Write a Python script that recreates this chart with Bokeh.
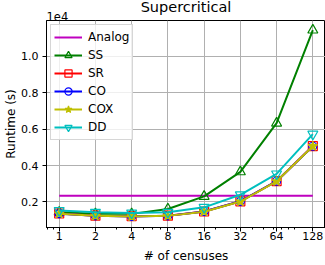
from bokeh.plotting import figure
from bokeh.models import Range1d, FixedTicker, CustomJSTickFormatter, Label, Legend, LegendItem
from bokeh.embed import file_html
from bokeh.resources import INLINE

censuses = [1, 2, 4, 8, 16, 32, 64, 128]
tick_labels = ["1", "2", "4", "8", "16", "32", "64", "128"]
analog = [2340] * 8
ss = [1430, 1340, 1340, 1610, 2300, 3650, 6330, 11450]
sr = [1360, 1240, 1210, 1240, 1470, 2030, 3140, 5070]
co = [1350, 1230, 1200, 1230, 1470, 2030, 3140, 5060]
cox = [1350, 1230, 1200, 1230, 1460, 2020, 3130, 5060]
dd = [1520, 1430, 1390, 1430, 1700, 2390, 3540, 5730]

FONT = "DejaVu Sans"

p = figure(width=325, height=265, output_backend="svg", toolbar_location=None,
           x_axis_type="log",
           x_range=Range1d(0.7846, 163.1), y_range=Range1d(590, 11980),
           title="Supercritical",
           min_border_left=46, min_border_right=0, min_border_top=0, min_border_bottom=38)

p.title.text_font = FONT
p.title.text_font_size = "14.5px"
p.title.text_font_style = "normal"
p.title.align = "center"
p.title.standoff = -7.4
p.title.text_color = "black"

p.outline_line_color = "black"
p.outline_line_alpha = 1
p.outline_line_width = 1

p.xaxis.ticker = FixedTicker(ticks=censuses,
                             minor_ticks=[0.8, 0.9, 3, 5, 6, 7, 9, 20, 30, 40, 50, 60, 70, 80, 90])
p.xaxis.formatter = CustomJSTickFormatter(args=dict(vals=censuses, labs=tick_labels),
                                          code="const i = vals.indexOf(tick); return i >= 0 ? labs[i] : '';")
p.yaxis.ticker = FixedTicker(ticks=[2000, 4000, 6000, 8000, 10000])
p.yaxis.formatter = CustomJSTickFormatter(code="return (tick/1e4).toFixed(1);")

for ax in (p.xaxis[0], p.yaxis[0]):
    ax.axis_label_text_font = FONT
    ax.axis_label_text_font_size = "12px"
    ax.axis_label_text_font_style = "normal"
    ax.axis_label_text_color = "black"
    ax.major_label_text_font = FONT
    ax.major_label_text_font_size = "11px"
    ax.major_label_text_color = "black"
    ax.major_tick_in = 0
    ax.major_tick_out = 4
    ax.minor_tick_in = 0
    ax.minor_tick_out = 2
    ax.axis_line_color = "black"
    ax.major_tick_line_color = "black"
    ax.minor_tick_line_color = "black"
p.yaxis.major_label_standoff = 4
p.yaxis.axis_label_standoff = 0
p.xaxis.major_label_standoff = 0
p.xaxis.axis_label_standoff = 6
p.yaxis.minor_tick_line_color = None
p.xaxis.axis_label = "# of censuses"
p.yaxis.axis_label = "Runtime (s)"

p.xgrid.ticker = FixedTicker(ticks=censuses)
p.ygrid.ticker = FixedTicker(ticks=[2000, 4000, 6000, 8000, 10000])
p.grid.grid_line_color = "#b0b0b0"
p.grid.grid_line_width = 1
p.grid.grid_line_alpha = 1

items = []
r = p.line(censuses, analog, line_color="#bf00bf", line_width=2)
items.append(LegendItem(label="Analog", renderers=[r]))

series = [
    ("SS", ss, "#008000", "triangle", 10, "none"),
    ("SR", sr, "#ff0000", "square", 9, "none"),
    ("CO", co, "#0000ff", "circle", 8, "none"),
    ("COX", cox, "#bfbf00", "star", 10, "fill"),
    ("DD", dd, "#00bfbf", "inverted_triangle", 10, "none"),
]
for name, vals, col, mk, sz, fill in series:
    l = p.line(censuses, vals, line_color=col, line_width=2)
    s = p.scatter(censuses, vals, marker=mk, size=sz, line_color=col, line_width=1.2,
                  fill_color=col if fill == "fill" else None)
    items.append(LegendItem(label=name, renderers=[l, s]))

legend = Legend(items=items, location="top_left")
legend.label_text_font = FONT
legend.label_text_font_size = "12px"
legend.label_text_color = "black"
legend.glyph_width = 28
legend.glyph_height = 18
legend.label_height = 18
legend.spacing = 0
legend.padding = 3
legend.margin = 4
legend.label_standoff = 6
legend.border_line_color = "#cccccc"
legend.border_line_alpha = 0.8
legend.background_fill_alpha = 0.8
p.add_layout(legend)

p.add_layout(Label(x=46, y=15.5, x_units="canvas", y_units="canvas", text="1e4",
                   text_font=FONT, text_font_size="11.5px",
                   text_baseline="alphabetic", text_align="left", text_color="black"), "above")

open("out.html", "w").write(file_html(p, INLINE))
